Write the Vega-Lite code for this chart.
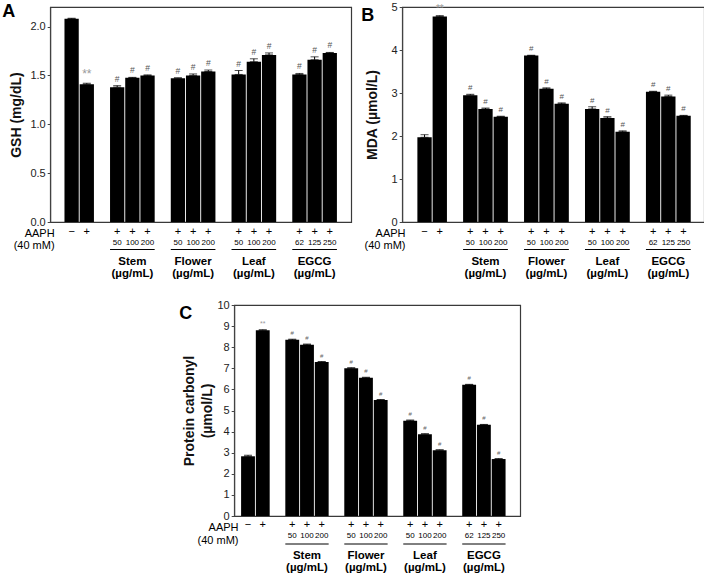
{
  "$schema": "https://vega.github.io/schema/vega-lite/v6.json",
  "padding": {"left": 1, "top": 0, "right": 0, "bottom": 0},
  "config": {
    "font": "Liberation Sans",
    "view": {"stroke": "#3a3a3a", "strokeWidth": 1.2},
    "axis": {"labelFont": "Liberation Sans", "labelFontSize": 11, "labelColor": "#222", "labelOverlap": false, "titleFont": "Liberation Sans", "titleFontSize": 14, "titleFontWeight": "bold", "titleColor": "#111", "domainColor": "#444", "tickColor": "#444", "tickSize": 3, "grid": false, "labelPadding": 2},
    "text": {"font": "Liberation Sans", "color": "#000"},
    "title": {"font": "Liberation Sans"}
  },
  "datasets": {
    "gsh": [
      {"cat": "ctrl", "sign": "−", "dose": "", "value": 2.08, "hi": 2.085, "sig": ""},
      {"cat": "AAPH", "sign": "+", "dose": "", "value": 1.41, "hi": 1.42, "sig": "**"},
      {"cat": "Stem50", "sign": "+", "dose": "50", "value": 1.38, "hi": 1.395, "sig": "#"},
      {"cat": "Stem100", "sign": "+", "dose": "100", "value": 1.475, "hi": 1.48, "sig": "#"},
      {"cat": "Stem200", "sign": "+", "dose": "200", "value": 1.5, "hi": 1.505, "sig": "#"},
      {"cat": "Flower50", "sign": "+", "dose": "50", "value": 1.47, "hi": 1.475, "sig": "#"},
      {"cat": "Flower100", "sign": "+", "dose": "100", "value": 1.5, "hi": 1.515, "sig": "#"},
      {"cat": "Flower200", "sign": "+", "dose": "200", "value": 1.54, "hi": 1.555, "sig": "#"},
      {"cat": "Leaf50", "sign": "+", "dose": "50", "value": 1.51, "hi": 1.55, "sig": "#"},
      {"cat": "Leaf100", "sign": "+", "dose": "100", "value": 1.64, "hi": 1.67, "sig": "#"},
      {"cat": "Leaf200", "sign": "+", "dose": "200", "value": 1.71, "hi": 1.73, "sig": "#"},
      {"cat": "EGCG62", "sign": "+", "dose": "62", "value": 1.51, "hi": 1.52, "sig": "#"},
      {"cat": "EGCG125", "sign": "+", "dose": "125", "value": 1.66, "hi": 1.69, "sig": "#"},
      {"cat": "EGCG250", "sign": "+", "dose": "250", "value": 1.73, "hi": 1.735, "sig": "#"}
    ],
    "mda": [
      {"cat": "ctrl", "sign": "−", "dose": "", "value": 1.97, "hi": 2.03, "sig": ""},
      {"cat": "AAPH", "sign": "+", "dose": "", "value": 4.78, "hi": 4.8, "sig": "**"},
      {"cat": "Stem50", "sign": "+", "dose": "50", "value": 2.95, "hi": 2.97, "sig": "#"},
      {"cat": "Stem100", "sign": "+", "dose": "100", "value": 2.63, "hi": 2.65, "sig": "#"},
      {"cat": "Stem200", "sign": "+", "dose": "200", "value": 2.45, "hi": 2.46, "sig": "#"},
      {"cat": "Flower50", "sign": "+", "dose": "50", "value": 3.87, "hi": 3.88, "sig": "#"},
      {"cat": "Flower100", "sign": "+", "dose": "100", "value": 3.1, "hi": 3.12, "sig": "#"},
      {"cat": "Flower200", "sign": "+", "dose": "200", "value": 2.75, "hi": 2.77, "sig": "#"},
      {"cat": "Leaf50", "sign": "+", "dose": "50", "value": 2.63, "hi": 2.68, "sig": "#"},
      {"cat": "Leaf100", "sign": "+", "dose": "100", "value": 2.42, "hi": 2.45, "sig": "#"},
      {"cat": "Leaf200", "sign": "+", "dose": "200", "value": 2.1, "hi": 2.12, "sig": "#"},
      {"cat": "EGCG62", "sign": "+", "dose": "62", "value": 3.03, "hi": 3.04, "sig": "#"},
      {"cat": "EGCG125", "sign": "+", "dose": "125", "value": 2.92, "hi": 2.95, "sig": "#"},
      {"cat": "EGCG250", "sign": "+", "dose": "250", "value": 2.47, "hi": 2.48, "sig": "#"}
    ],
    "pc": [
      {"cat": "ctrl", "sign": "−", "dose": "", "value": 2.83, "hi": 2.88, "sig": ""},
      {"cat": "AAPH", "sign": "+", "dose": "", "value": 8.8, "hi": 8.83, "sig": "**"},
      {"cat": "Stem50", "sign": "+", "dose": "50", "value": 8.35, "hi": 8.38, "sig": "#"},
      {"cat": "Stem100", "sign": "+", "dose": "100", "value": 8.12, "hi": 8.15, "sig": "#"},
      {"cat": "Stem200", "sign": "+", "dose": "200", "value": 7.3, "hi": 7.32, "sig": "#"},
      {"cat": "Flower50", "sign": "+", "dose": "50", "value": 7.0, "hi": 7.03, "sig": "#"},
      {"cat": "Flower100", "sign": "+", "dose": "100", "value": 6.55, "hi": 6.57, "sig": "#"},
      {"cat": "Flower200", "sign": "+", "dose": "200", "value": 5.5, "hi": 5.52, "sig": "#"},
      {"cat": "Leaf50", "sign": "+", "dose": "50", "value": 4.52, "hi": 4.55, "sig": "#"},
      {"cat": "Leaf100", "sign": "+", "dose": "100", "value": 3.88, "hi": 3.9, "sig": "#"},
      {"cat": "Leaf200", "sign": "+", "dose": "200", "value": 3.12, "hi": 3.14, "sig": "#"},
      {"cat": "EGCG62", "sign": "+", "dose": "62", "value": 6.22, "hi": 6.24, "sig": "#"},
      {"cat": "EGCG125", "sign": "+", "dose": "125", "value": 4.32, "hi": 4.34, "sig": "#"},
      {"cat": "EGCG250", "sign": "+", "dose": "250", "value": 2.7, "hi": 2.72, "sig": "#"}
    ],
    "groups": [
      {"start": "Stem50", "mid": "Stem100", "end": "Stem200", "label": ["Stem", "(µg/mL)"]},
      {"start": "Flower50", "mid": "Flower100", "end": "Flower200", "label": ["Flower", "(µg/mL)"]},
      {"start": "Leaf50", "mid": "Leaf100", "end": "Leaf200", "label": ["Leaf", "(µg/mL)"]},
      {"start": "EGCG62", "mid": "EGCG125", "end": "EGCG250", "label": ["EGCG", "(µg/mL)"]}
    ],
    "aaph": [
      {"label": ["AAPH", "(40 mM)"]}
    ]
  },
  "resolve": {"scale": {"x": "independent", "y": "independent", "color": "independent", "size": "independent"}},
  "center": true,
  "spacing": 17,
  "vconcat": [
    {
      "bounds": "flush",
      "spacing": 51,
      "resolve": {"scale": {"x": "independent", "y": "independent", "color": "independent", "size": "independent"}},
      "hconcat": [
        {
          "width": 301, "height": 215,
          "title": {"text": "A", "anchor": "start", "frame": "group", "orient": "top", "baseline": "top", "offset": 0, "dx": -48, "dy": 16, "fontSize": 18, "fontWeight": "bold", "color": "#000"},
          "data": {"name": "gsh"},
          "layer": [
            {"mark": {"type": "bar", "color": "#000"},
             "encoding": {
               "x": {"field": "cat", "type": "nominal", "axis": null, "sort": null, "scale": {"domain": ["ctrl","AAPH","s1","Stem50","Stem100","Stem200","s2","Flower50","Flower100","Flower200","s3","Leaf50","Leaf100","Leaf200","s4","EGCG62","EGCG125","EGCG250"], "paddingInner": 0.06, "paddingOuter": 0.94, "align": 0.5}},
               "y": {"field": "value", "type": "quantitative", "title": "GSH (mg/dL)", "scale": {"domain": [0, 2.2], "nice": false}, "axis": {"values": [0, 0.5, 1, 1.5, 2], "format": ".1f", "titlePadding": 6, "labelOverlap": false}}}},
            {"mark": {"type": "errorbar", "color": "#000", "ticks": {"size": 8, "color": "#000"}, "rule": {"color": "#000", "strokeWidth": 1}},
             "encoding": {"x": {"field": "cat", "type": "nominal", "axis": null}, "y": {"field": "value", "type": "quantitative", "title": "GSH (mg/dL)"}, "y2": {"field": "hi"}}},
            {"mark": {"type": "text", "baseline": "bottom", "dy": -2},
             "encoding": {"x": {"field": "cat", "type": "nominal", "axis": null}, "y": {"field": "hi", "type": "quantitative", "title": "GSH (mg/dL)"}, "text": {"field": "sig"},
               "size": {"field": "sig", "type": "ordinal", "scale": {"domain": ["**", "#"], "range": [12, 8.5]}, "legend": null},
               "color": {"field": "sig", "type": "nominal", "scale": {"domain": ["**", "#"], "range": ["#9a9a9a", "#555555"]}, "legend": null}}},
            {"mark": {"type": "text", "baseline": "middle", "dy": 9.5, "fontSize": 11, "color": "#000"},
             "encoding": {"x": {"field": "cat", "type": "nominal", "axis": null}, "y": {"datum": 0}, "text": {"field": "sign"}}},
            {"mark": {"type": "text", "baseline": "middle", "dy": 20.5, "fontSize": 8, "color": "#000"},
             "encoding": {"x": {"field": "cat", "type": "nominal", "axis": null}, "y": {"datum": 0}, "text": {"field": "dose"}}},
            {"data": {"name": "groups"}, "mark": {"type": "rule", "color": "#000", "strokeWidth": 1},
             "encoding": {"x": {"field": "start", "type": "nominal", "bandPosition": 0, "axis": null}, "x2": {"field": "end", "bandPosition": 1}, "y": {"datum": 0}, "yOffset": {"value": 27.5}}},
            {"data": {"name": "groups"}, "mark": {"type": "text", "baseline": "top", "dy": 34, "fontSize": 11.5, "fontWeight": "bold", "lineHeight": 12, "color": "#000"},
             "encoding": {"x": {"field": "mid", "type": "nominal", "axis": null}, "y": {"datum": 0}, "text": {"field": "label"}}},
            {"data": {"name": "aaph"}, "mark": {"type": "text", "align": "right", "baseline": "top", "dx": -17, "dy": 6, "fontSize": 11, "lineHeight": 12, "color": "#000"},
             "encoding": {"x": {"datum": "ctrl", "type": "nominal", "axis": null}, "y": {"datum": 0}, "text": {"field": "label"}}}
          ]
        },
        {
          "width": 302, "height": 215,
          "title": {"text": "B", "anchor": "start", "frame": "group", "orient": "top", "baseline": "top", "offset": 0, "dx": -41, "dy": 23.5, "fontSize": 18, "fontWeight": "bold", "color": "#000"},
          "data": {"name": "mda"},
          "layer": [
            {"mark": {"type": "bar", "color": "#000"},
             "encoding": {
               "x": {"field": "cat", "type": "nominal", "axis": null, "sort": null, "scale": {"domain": ["ctrl","AAPH","s1","Stem50","Stem100","Stem200","s2","Flower50","Flower100","Flower200","s3","Leaf50","Leaf100","Leaf200","s4","EGCG62","EGCG125","EGCG250"], "paddingInner": 0.06, "paddingOuter": 0.94, "align": 0.53}},
               "y": {"field": "value", "type": "quantitative", "title": "MDA (µmol/L)", "scale": {"domain": [0, 5], "nice": false}, "axis": {"values": [0, 1, 2, 3, 4, 5], "format": "d", "titlePadding": 12, "labelOverlap": false}}}},
            {"mark": {"type": "errorbar", "color": "#000", "ticks": {"size": 8, "color": "#000"}, "rule": {"color": "#000", "strokeWidth": 1}},
             "encoding": {"x": {"field": "cat", "type": "nominal", "axis": null}, "y": {"field": "value", "type": "quantitative", "title": "MDA (µmol/L)"}, "y2": {"field": "hi"}}},
            {"mark": {"type": "text", "baseline": "bottom", "dy": -2},
             "encoding": {"x": {"field": "cat", "type": "nominal", "axis": null}, "y": {"field": "hi", "type": "quantitative", "title": "MDA (µmol/L)"}, "text": {"field": "sig"},
               "size": {"field": "sig", "type": "ordinal", "scale": {"domain": ["**", "#"], "range": [10, 8]}, "legend": null},
               "color": {"field": "sig", "type": "nominal", "scale": {"domain": ["**", "#"], "range": ["#9a9a9a", "#555555"]}, "legend": null}}},
            {"mark": {"type": "text", "baseline": "middle", "dy": 9.5, "fontSize": 11, "color": "#000"},
             "encoding": {"x": {"field": "cat", "type": "nominal", "axis": null}, "y": {"datum": 0}, "text": {"field": "sign"}}},
            {"mark": {"type": "text", "baseline": "middle", "dy": 20.5, "fontSize": 8, "color": "#000"},
             "encoding": {"x": {"field": "cat", "type": "nominal", "axis": null}, "y": {"datum": 0}, "text": {"field": "dose"}}},
            {"data": {"name": "groups"}, "mark": {"type": "rule", "color": "#000", "strokeWidth": 1},
             "encoding": {"x": {"field": "start", "type": "nominal", "bandPosition": 0, "axis": null}, "x2": {"field": "end", "bandPosition": 1}, "y": {"datum": 0}, "yOffset": {"value": 27.5}}},
            {"data": {"name": "groups"}, "mark": {"type": "text", "baseline": "top", "dy": 34, "fontSize": 11.5, "fontWeight": "bold", "lineHeight": 12, "color": "#000"},
             "encoding": {"x": {"field": "mid", "type": "nominal", "axis": null}, "y": {"datum": 0}, "text": {"field": "label"}}},
            {"data": {"name": "aaph"}, "mark": {"type": "text", "align": "right", "baseline": "top", "dx": -19, "dy": 6, "fontSize": 11, "lineHeight": 12, "color": "#000"},
             "encoding": {"x": {"datum": "ctrl", "type": "nominal", "axis": null}, "y": {"datum": 0}, "text": {"field": "label"}}}
          ]
        }
      ]
    },
    {
      "width": 286, "height": 211,
      "title": {"text": "C", "anchor": "start", "frame": "group", "orient": "top", "baseline": "top", "offset": 0, "dx": -55, "dy": 24, "fontSize": 18, "fontWeight": "bold", "color": "#000"},
      "data": {"name": "pc"},
      "layer": [
        {"mark": {"type": "bar", "color": "#000"},
         "encoding": {
           "x": {"field": "cat", "type": "nominal", "axis": null, "sort": null, "scale": {"domain": ["ctrl","AAPH","s1","Stem50","Stem100","Stem200","s2","Flower50","Flower100","Flower200","s3","Leaf50","Leaf100","Leaf200","s4","EGCG62","EGCG125","EGCG250"], "paddingInner": 0.06, "paddingOuter": 0.73, "align": 0.32}},
           "y": {"field": "value", "type": "quantitative", "title": ["Protein carbonyl", "(µmol/L)"], "scale": {"domain": [0, 10], "nice": false}, "axis": {"values": [0, 1, 2, 3, 4, 5, 6, 7, 8, 9, 10], "tickCount": 11, "format": "d", "titlePadding": 2, "titleLineHeight": 18, "labelOverlap": false}}}},
        {"mark": {"type": "errorbar", "color": "#000", "ticks": {"size": 8, "color": "#000"}, "rule": {"color": "#000", "strokeWidth": 1}},
         "encoding": {"x": {"field": "cat", "type": "nominal", "axis": null}, "y": {"field": "value", "type": "quantitative", "title": ["Protein carbonyl", "(µmol/L)"]}, "y2": {"field": "hi"}}},
        {"mark": {"type": "text", "baseline": "bottom", "dy": -3},
         "encoding": {"x": {"field": "cat", "type": "nominal", "axis": null}, "y": {"field": "hi", "type": "quantitative", "title": ["Protein carbonyl", "(µmol/L)"]}, "text": {"field": "sig"},
           "size": {"field": "sig", "type": "ordinal", "scale": {"domain": ["**", "#"], "range": [7, 6]}, "legend": null},
           "color": {"field": "sig", "type": "nominal", "scale": {"domain": ["**", "#"], "range": ["#9a9a9a", "#666666"]}, "legend": null}}},
        {"mark": {"type": "text", "baseline": "middle", "dy": 8.5, "fontSize": 11, "color": "#000"},
         "encoding": {"x": {"field": "cat", "type": "nominal", "axis": null}, "y": {"datum": 0}, "text": {"field": "sign"}}},
        {"mark": {"type": "text", "baseline": "middle", "dy": 19.5, "fontSize": 8, "color": "#000"},
         "encoding": {"x": {"field": "cat", "type": "nominal", "axis": null}, "y": {"datum": 0}, "text": {"field": "dose"}}},
        {"data": {"name": "groups"}, "mark": {"type": "rule", "color": "#000", "strokeWidth": 1},
         "encoding": {"x": {"field": "start", "type": "nominal", "bandPosition": 0, "axis": null}, "x2": {"field": "end", "bandPosition": 1}, "y": {"datum": 0}, "yOffset": {"value": 28}}},
        {"data": {"name": "groups"}, "mark": {"type": "text", "baseline": "top", "dy": 33.5, "fontSize": 11.5, "fontWeight": "bold", "lineHeight": 12.5, "color": "#000"},
         "encoding": {"x": {"field": "mid", "type": "nominal", "axis": null}, "y": {"datum": 0}, "text": {"field": "label"}}},
        {"data": {"name": "aaph"}, "mark": {"type": "text", "align": "right", "baseline": "top", "dx": -9.5, "dy": 6, "fontSize": 11, "lineHeight": 13, "color": "#000"},
         "encoding": {"x": {"datum": "ctrl", "type": "nominal", "axis": null}, "y": {"datum": 0}, "text": {"field": "label"}}}
      ]
    }
  ]
}
